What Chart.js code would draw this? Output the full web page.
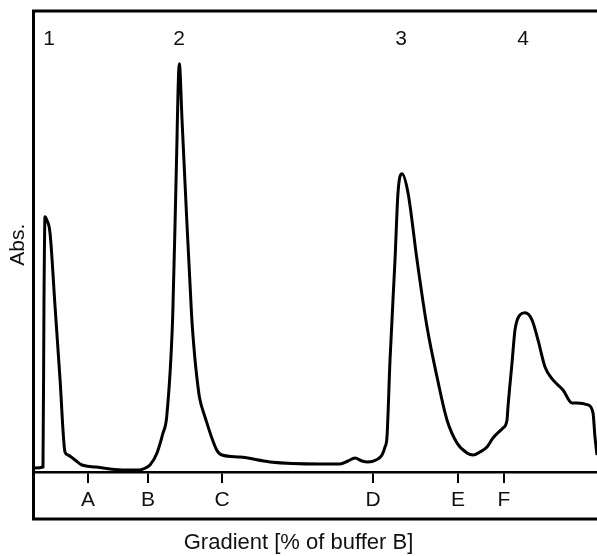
<!DOCTYPE html>
<html>
<head>
<meta charset="utf-8">
<script src="https://cdn.jsdelivr.net/npm/chart.js@4/dist/chart.umd.min.js"></script>
<style>
  html, body { margin: 0; padding: 0; background: #fff; }
  #wrap { width: 597px; height: 556px; }
</style>
</head>
<body>
<div id="wrap"><canvas id="chart" width="597" height="556"></canvas></div>
<script>
// --- Data (arbitrary units 0-100) ---
const gradient = [
  0, 1.42, 1.60, 1.78, 2.08, 2.67, 3.56, 4.45, 5.34, 5.87, 7.12, 8.36, 10.85, 13.35, 16.01,
  18.68, 19.22, 20.46, 21.71, 22.78, 23.43, 24.50, 25.09, 25.68, 26.16, 26.69, 27.88, 28.45, 28.90,
  29.27, 30.25, 32.33, 33.27, 36.48, 41.81, 50.71, 54.27, 55.69, 56.94, 58.19, 59.25, 60.68,
  61.74, 62.28, 62.63, 63.17, 64.06, 64.59, 65.30, 66.37, 67.97, 69.75, 71.53, 73.31, 75.09,
  76.87, 77.94, 79.18, 80.43, 81.49, 83.27, 83.99, 84.16, 84.88, 85.41, 86.30, 87.19, 88.43,
  89.50, 90.75, 92.17, 93.95, 95.55, 96.44, 98.40, 99.29, 99.64, 100
];
const absorbance = [
  0.88, 1.10, 37.89, 56.17, 55.51, 52.64, 36.56, 20.48, 4.41, 3.74, 2.64, 1.54, 1.10, 0.66, 0.44,
  0.44, 0.66, 1.54, 4.19, 8.59, 12.11, 34.14, 63.66, 89.87, 77.53, 63.66, 34.14, 25.00, 19.80,
  16.40, 12.11, 4.85, 3.74, 3.30, 2.20, 1.76, 1.76, 2.42, 3.08, 2.42, 2.20, 2.64,
  3.74, 5.51, 7.71, 24.67, 46.70, 61.45, 65.64, 61.45, 46.70, 31.94, 20.93, 11.45, 6.39,
  4.19, 3.74, 4.41, 5.51, 7.49, 9.69, 11.45, 14.32, 24.01, 31.28, 34.58, 35.02, 33.48,
  29.07, 23.13, 20.26, 18.06, 15.20, 15.20, 14.76, 13.00, 7.71, 3.74
];
const tickPositions = [9.43, 20.11, 33.27, 60.14, 75.27, 83.45];
const tickLabels = ['A', 'B', 'C', 'D', 'E', 'F'];
const peakPositions = [2.49, 25.62, 65.12, 86.83];
const peakLabels = ['1', '2', '3', '4'];

const FONT = { family: 'Liberation Sans', size: 21, lineHeight: 1.2 };
const INK = '#111';

// --- Frame around plot + label strip ---
const framePlugin = {
  id: 'frame',
  afterDraw(chart) {
    const { ctx, chartArea: a } = chart;
    ctx.save();
    ctx.strokeStyle = '#000';
    ctx.lineWidth = 3;
    ctx.beginPath();
    ctx.moveTo(a.right + 2, 11);
    ctx.lineTo(a.left - 1.5, 11);
    ctx.lineTo(a.left - 1.5, a.bottom + 47);
    ctx.lineTo(a.right + 2, a.bottom + 47);
    ctx.stroke();
    ctx.restore();
  }
};

new Chart(document.getElementById('chart'), {
  type: 'line',
  data: {
    datasets: [{
      data: gradient.map((x, i) => ({ x, y: absorbance[i] })),
      borderColor: '#000',
      borderWidth: 3,
      pointRadius: 0,
      fill: false,
      cubicInterpolationMode: 'monotone',
      xAxisID: 'x',
      yAxisID: 'y'
    }]
  },
  options: {
    responsive: false,
    animation: false,
    layout: { padding: 0 },
    plugins: {
      legend: { display: false },
      tooltip: { enabled: false },
      // centred on the whole figure, not the plot area
      title: {
        display: true, position: 'bottom', text: 'Gradient [% of buffer B]',
        color: INK, font: { ...FONT, size: 22, weight: 'normal' }, padding: { top: 12.6, bottom: 0 }
      }
    },
    scales: {
      x: {
        type: 'linear', position: 'bottom', min: 0, max: 100,
        afterBuildTicks: s => { s.ticks = tickPositions.map(v => ({ value: v })); },
        ticks: {
          autoSkip: false, maxRotation: 0, padding: 4.4, color: INK, font: FONT,
          callback: (v, i) => tickLabels[i]
        },
        grid: { display: true, drawOnChartArea: false, drawTicks: true, tickLength: 11, lineWidth: 2, color: '#000' },
        border: { display: true, color: '#000', width: 2.5 }
      },
      peaks: {
        axis: 'x', type: 'linear', position: 'top', min: 0, max: 100,
        afterBuildTicks: s => { s.ticks = peakPositions.map(v => ({ value: v })); },
        ticks: {
          autoSkip: false, maxRotation: 0, mirror: true, padding: 8.8, color: INK, font: FONT,
          callback: (v, i) => peakLabels[i]
        },
        grid: { display: false, drawTicks: false },
        border: { display: false }
      },
      y: {
        min: 0, max: 100,
        ticks: { display: false },
        grid: { display: false, drawTicks: false },
        border: { display: false },
        title: { display: true, text: 'Abs.', color: INK, font: FONT, padding: { top: 5.4, bottom: 4.4 } }
      }
    }
  },
  plugins: [framePlugin]
});
</script>
</body>
</html>
